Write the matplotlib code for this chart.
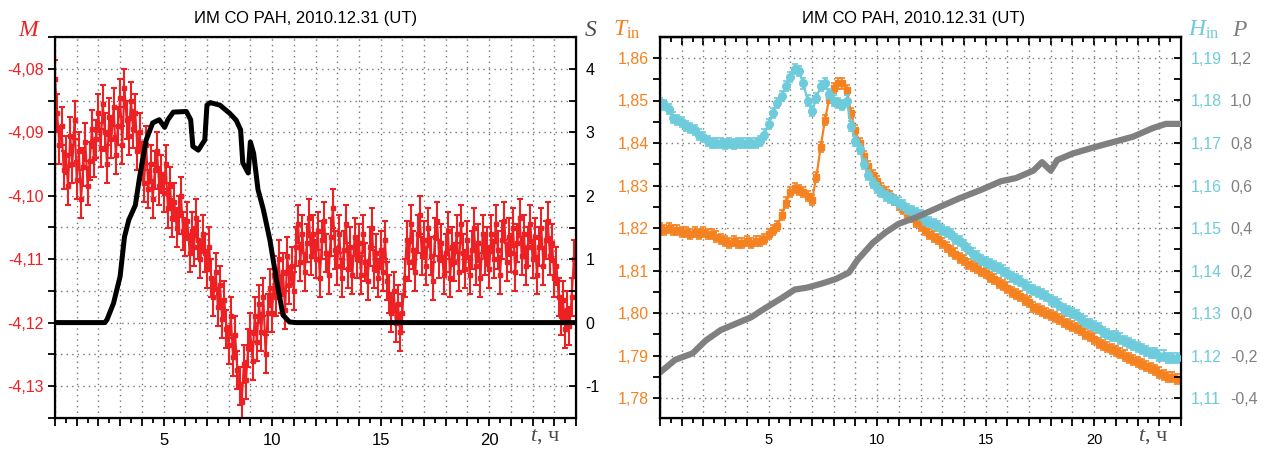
import numpy as np
import matplotlib.pyplot as plt
from matplotlib.ticker import MultipleLocator, FuncFormatter

plt.rcParams['font.family'] = ['Liberation Sans', 'DejaVu Sans']
plt.rcParams['mathtext.fontset'] = 'custom'
plt.rcParams['mathtext.rm'] = 'Liberation Serif'
plt.rcParams['mathtext.it'] = 'Liberation Serif:italic'

title = "ИМ СО РАН, 2010.12.31 (UT)"

# left panel: M every 0.1 h (one row = one hour)
m_vals = [
    -4.0815, -4.0870, -4.0920, -4.0890, -4.0960, -4.0935, -4.0985, -4.0905, -4.0950, -4.0880,
    -4.0975, -4.0930, -4.1005, -4.0955, -4.0915, -4.0985, -4.0945, -4.0895, -4.0940, -4.0910,
    -4.0870, -4.0925, -4.0855, -4.0900, -4.0950, -4.0875, -4.0910, -4.0860, -4.0935, -4.0890,
    -4.0845, -4.0920, -4.0830, -4.0880, -4.0905, -4.0850, -4.0895, -4.0870, -4.0930, -4.0900,
    -4.0945, -4.0980, -4.0920, -4.0990, -4.0950, -4.1005, -4.0960, -4.0930, -4.0985, -4.0965,
    -4.0995, -4.0950, -4.1020, -4.0985, -4.1035, -4.1010, -4.1050, -4.1030, -4.1000, -4.1055,
    -4.1065, -4.1040, -4.1090, -4.1055, -4.1080, -4.1035, -4.1070, -4.1100, -4.1060, -4.1090,
    -4.1115, -4.1080, -4.1130, -4.1160, -4.1120, -4.1175, -4.1140, -4.1195, -4.1165, -4.1210,
    -4.1235, -4.1190, -4.1255, -4.1220, -4.1275, -4.1300, -4.1325, -4.1265, -4.1290, -4.1240,
    -4.1215, -4.1260, -4.1190, -4.1230, -4.1170, -4.1215, -4.1160, -4.1250, -4.1185, -4.1145,
    -4.1185, -4.1125, -4.1160, -4.1100, -4.1155, -4.1120, -4.1180, -4.1095, -4.1140, -4.1110,
    -4.1150, -4.1080, -4.1045, -4.1105, -4.1060, -4.1120, -4.1075, -4.1035, -4.1095, -4.1060,
    -4.1100, -4.1055, -4.1130, -4.1070, -4.1040, -4.1090, -4.1125, -4.1065, -4.1020, -4.1085,
    -4.1110, -4.1060, -4.1130, -4.1085, -4.1045, -4.1115, -4.1080, -4.1125, -4.1065, -4.1100,
    -4.1075, -4.1125, -4.1060, -4.1105, -4.1135, -4.1080, -4.1050, -4.1115, -4.1090, -4.1130,
    -4.1085, -4.1120, -4.1070, -4.1135, -4.1155, -4.1185, -4.1150, -4.1200, -4.1170, -4.1215,
    -4.1185, -4.1130, -4.1070, -4.1105, -4.1045, -4.1085, -4.1120, -4.1060, -4.1030, -4.1095,
    -4.1070, -4.1110, -4.1050, -4.1095, -4.1135, -4.1065, -4.1040, -4.1100, -4.1075, -4.1125,
    -4.1090, -4.1055, -4.1130, -4.1080, -4.1105, -4.1060, -4.1120, -4.1045, -4.1090, -4.1115,
    -4.1070, -4.1125, -4.1085, -4.1050, -4.1110, -4.1075, -4.1130, -4.1060, -4.1095, -4.1080,
    -4.1115, -4.1060, -4.1100, -4.1045, -4.1085, -4.1125, -4.1070, -4.1040, -4.1105, -4.1065,
    -4.1090, -4.1050, -4.1120, -4.1075, -4.1035, -4.1095, -4.1060, -4.1110, -4.1080, -4.1045,
    -4.1100, -4.1065, -4.1125, -4.1080, -4.1050, -4.1110, -4.1070, -4.1040, -4.1095, -4.1075,
    -4.1130, -4.1110, -4.1160, -4.1190, -4.1165, -4.1210, -4.1180, -4.1205, -4.1160, -4.1100,
]
m_t = np.arange(len(m_vals)) * 0.1
m_err = 0.003

s_t = [0, 2.3, 2.4, 2.7, 3.0, 3.2, 3.4, 3.7, 3.9, 4.2, 4.5, 4.8, 5.05, 5.2, 5.45,
       6.05, 6.25, 6.35, 6.6, 6.9, 7.0, 7.15, 7.6, 8.05, 8.35, 8.55, 8.65, 8.9,
       9.0, 9.15, 9.35, 9.6, 9.9, 10.2, 10.5, 10.8, 11.1, 24]
s_vals = [0, 0, 0.05, 0.31, 0.73, 1.35, 1.62, 1.85, 2.3, 2.88, 3.15, 3.2, 3.08, 3.2, 3.32,
          3.33, 3.2, 2.78, 2.72, 2.88, 3.43, 3.47, 3.43, 3.3, 3.19, 3.04, 2.52, 2.36,
          2.85, 2.67, 2.1, 1.78, 1.3, 0.68, 0.12, 0.01, 0, 0]

# right panel: T_in and H_in every 0.2 h (one row = two hours)
tin_vals = [
    1.8200, 1.8195, 1.8200, 1.8195, 1.8195, 1.8190, 1.8190, 1.8185, 1.8190, 1.8185,
    1.8190, 1.8185, 1.8185, 1.8180, 1.8175, 1.8170, 1.8165, 1.8170, 1.8165, 1.8165,
    1.8170, 1.8165, 1.8170, 1.8170, 1.8175, 1.8185, 1.8195, 1.8205, 1.8230, 1.8260,
    1.8285, 1.8295, 1.8290, 1.8285, 1.8275, 1.8265, 1.8320, 1.8390, 1.8455, 1.8505,
    1.8530, 1.8540, 1.8540, 1.8525, 1.8470, 1.8430, 1.8400, 1.8370, 1.8345, 1.8325,
    1.8310, 1.8295, 1.8285, 1.8275, 1.8265, 1.8255, 1.8245, 1.8235, 1.8225, 1.8215,
    1.8205, 1.8195, 1.8185, 1.8180, 1.8175, 1.8165, 1.8155, 1.8145, 1.8140, 1.8130,
    1.8125, 1.8115, 1.8110, 1.8105, 1.8100, 1.8095, 1.8085, 1.8080, 1.8070, 1.8065,
    1.8060, 1.8050, 1.8045, 1.8040, 1.8030, 1.8025, 1.8015, 1.8010, 1.8005, 1.8000,
    1.7995, 1.7990, 1.7985, 1.7980, 1.7975, 1.7970, 1.7965, 1.7960, 1.7950, 1.7945,
    1.7940, 1.7930, 1.7925, 1.7920, 1.7915, 1.7910, 1.7905, 1.7900, 1.7895, 1.7890,
    1.7885, 1.7880, 1.7875, 1.7870, 1.7865, 1.7860, 1.7855, 1.7850, 1.7850, 1.7845,
]
hin_vals = [
    1.1795, 1.1790, 1.1780, 1.1760, 1.1755, 1.1750, 1.1740, 1.1735, 1.1730, 1.1720,
    1.1715, 1.1705, 1.1700, 1.1700, 1.1700, 1.1698, 1.1700, 1.1698, 1.1700, 1.1700,
    1.1700, 1.1700, 1.1700, 1.1705, 1.1720, 1.1745, 1.1770, 1.1795, 1.1810, 1.1835,
    1.1855, 1.1875, 1.1870, 1.1840, 1.1800, 1.1775, 1.1805, 1.1835, 1.1840, 1.1815,
    1.1800, 1.1795, 1.1790, 1.1800, 1.1740, 1.1705, 1.1685, 1.1650, 1.1625, 1.1605,
    1.1595, 1.1585, 1.1575, 1.1570, 1.1565, 1.1560, 1.1555, 1.1545, 1.1540, 1.1535,
    1.1530, 1.1520, 1.1515, 1.1510, 1.1505, 1.1495, 1.1490, 1.1485, 1.1475, 1.1470,
    1.1460, 1.1450, 1.1440, 1.1435, 1.1425, 1.1420, 1.1415, 1.1410, 1.1405, 1.1400,
    1.1395, 1.1385, 1.1380, 1.1375, 1.1365, 1.1360, 1.1355, 1.1350, 1.1345, 1.1340,
    1.1330, 1.1325, 1.1320, 1.1310, 1.1305, 1.1300, 1.1295, 1.1285, 1.1280, 1.1275,
    1.1270, 1.1265, 1.1255, 1.1250, 1.1245, 1.1245, 1.1240, 1.1235, 1.1230, 1.1225,
    1.1220, 1.1215, 1.1210, 1.1205, 1.1205, 1.1200, 1.1200, 1.1195, 1.1195, 1.1195,
]
th_t = np.arange(len(tin_vals)) * 0.2
th_err = 0.0012

p_t = [0.0, 0.7, 1.5, 2.1, 2.8, 3.5, 4.2, 4.8, 5.6, 6.2, 6.8, 7.5, 8.1, 8.7, 9.1,
       9.8, 10.4, 11.0, 11.8, 12.9, 13.8, 14.8, 15.7, 16.4, 17.2, 17.6, 18.0, 18.3,
       19.0, 20.0, 20.9, 21.8, 22.7, 23.3, 24.0]
p_vals = [-0.28, -0.22, -0.19, -0.13, -0.08, -0.05, -0.02, 0.02, 0.07, 0.11, 0.12,
          0.14, 0.16, 0.19, 0.25, 0.33, 0.38, 0.42, 0.45, 0.50, 0.54, 0.58, 0.62,
          0.635, 0.67, 0.71, 0.67, 0.72, 0.75, 0.78, 0.805, 0.83, 0.87, 0.89, 0.89]

RED = '#ED2024'
ORANGE = '#F58220'
CYAN = '#6DCBDB'
GRAY = '#808080'
DARK = '#4d4d4d'


def comma(dec, step=None):
    def f(v, pos):
        if step is not None and abs(v / step - round(v / step)) > 1e-6:
            return ''
        if abs(v) < 1e-9:
            v = 0.0
        return f"{v:.{dec}f}".replace('.', ',')
    return FuncFormatter(f)


def hours(v, pos):
    if v > 0 and abs(v % 5) < 1e-6 and v < 24:
        return f"{int(round(v))}"
    return ''


def style_x(ax, size):
    ax.set_xlim(0, 24)
    ax.xaxis.set_major_locator(MultipleLocator(1))
    ax.xaxis.set_minor_locator(MultipleLocator(0.5))
    ax.xaxis.set_major_formatter(FuncFormatter(hours))
    ax.tick_params(axis='x', which='major', direction='out', length=5.5, width=1.3,
                   labelsize=size, pad=5)
    ax.tick_params(axis='x', which='minor', direction='out', length=3.5, width=1.3)
    for s in ax.spines.values():
        s.set_linewidth(1.6)
    ax.grid(True, which='major', ls=(0, (1, 3)), color='#777777', lw=1)


fig = plt.figure(figsize=(12.73, 4.51), dpi=100)

# ---- left panel
ax = fig.add_axes([55 / 1273, 33 / 451, 521 / 1273, 381 / 451])
style_x(ax, 12)
ax.set_ylim(-4.13505, -4.07495)
ax.yaxis.set_major_locator(MultipleLocator(0.005))
ax.yaxis.set_major_formatter(comma(2, 0.01))
ax.tick_params(axis='y', direction='out', length=5, width=1.3, labelsize=11.5,
               labelcolor=RED, pad=3)
ax.errorbar(m_t, m_vals, yerr=m_err, fmt='-s', color=RED, ms=3.5, lw=1.5,
            elinewidth=1.5, capsize=2, capthick=1.5)

ax2 = ax.twinx()
ax2.set_ylim(-1.505, 4.505)
ax2.yaxis.set_major_locator(MultipleLocator(0.5))
ax2.yaxis.set_major_formatter(FuncFormatter(
    lambda v, p: f"{int(round(v))}" if abs(v - round(v)) < 1e-6 else ''))
ax2.tick_params(axis='y', direction='in', length=5, width=1.3, labelsize=11.5, pad=7)
ax2.plot(s_t, s_vals, color='black', lw=3.6, solid_capstyle='round')

fig.text(306 / 1273, 1 - 18 / 451, title, ha='center', va='center', fontsize=12)
fig.text(30 / 1273, 1 - 30 / 451, r'$M$', color=RED, fontsize=17, ha='center', va='center')
fig.text(591 / 1273, 1 - 30 / 451, r'$S$', color=DARK, fontsize=17, ha='center', va='center')
fig.text(545 / 1273, 1 - 437 / 451, r'$t$, ч', color=DARK, fontsize=16,
         family='Liberation Serif', ha='center', va='center')

# ---- right panel
axT = fig.add_axes([660 / 1273, 33 / 451, 521 / 1273, 381 / 451])
style_x(axT, 10.5)
axT.set_ylim(1.7753, 1.86494)
axT.yaxis.set_major_locator(MultipleLocator(0.01))
axT.yaxis.set_minor_locator(MultipleLocator(0.005))
axT.yaxis.set_major_formatter(comma(2))
axT.tick_params(axis='y', which='both', direction='out', length=5, width=1.3,
                labelsize=11.5, labelcolor=ORANGE, pad=3)
axT.errorbar(th_t, tin_vals, yerr=th_err, fmt='-s', color=ORANGE, ms=5, lw=1.6,
             elinewidth=1.2, capsize=2, capthick=1.2)

# inward ticks on the top edge
top = axT.secondary_xaxis('top')
top.xaxis.set_major_locator(MultipleLocator(1))
top.xaxis.set_minor_locator(MultipleLocator(0.5))
top.tick_params(axis='x', which='major', direction='in', length=5.5, width=1.3,
                labeltop=False)
top.tick_params(axis='x', which='minor', direction='in', length=3.5, width=1.3)
top.spines['top'].set_linewidth(1.6)

axH = axT.twinx()
axH.set_ylim(1.7753 - 0.67, 1.86494 - 0.67)
axH.yaxis.set_major_locator(MultipleLocator(0.01))
axH.yaxis.set_minor_locator(MultipleLocator(0.005))
axH.yaxis.set_major_formatter(comma(2))
axH.tick_params(axis='y', which='both', direction='in', length=5, width=1.3,
                labelsize=11.5, labelcolor=CYAN, pad=7)
axH.errorbar(th_t, hin_vals, yerr=th_err, fmt='-o', color=CYAN, ms=5.5, lw=1.6,
             elinewidth=1.2, capsize=2, capthick=1.2)

axP = axT.twinx()
axP.set_ylim((1.7753 - 1.80) * 20, (1.86494 - 1.80) * 20)
axP.yaxis.set_major_locator(MultipleLocator(0.2))
axP.yaxis.set_major_formatter(comma(1))
axP.spines['right'].set_visible(False)
axP.tick_params(axis='y', length=0, labelsize=11.5, labelcolor=GRAY, pad=49 * 0.72)
axP.plot(p_t, p_vals, color=GRAY, lw=4.5, solid_capstyle='round')

fig.text(914 / 1273, 1 - 18 / 451, title, ha='center', va='center', fontsize=12)
fig.text(627 / 1273, 1 - 30 / 451, r'$T_{\mathrm{in}}$', color=ORANGE, fontsize=17,
         ha='center', va='center')
fig.text(1204 / 1273, 1 - 30 / 451, r'$H_{\mathrm{in}}$', color=CYAN, fontsize=17,
         ha='center', va='center')
fig.text(1240 / 1273, 1 - 30 / 451, r'$P$', color=GRAY, fontsize=17, ha='center', va='center')
fig.text(1153 / 1273, 1 - 437 / 451, r'$t$, ч', color=DARK, fontsize=16,
         family='Liberation Serif', ha='center', va='center')

fig.savefig('out.png', dpi=100)
